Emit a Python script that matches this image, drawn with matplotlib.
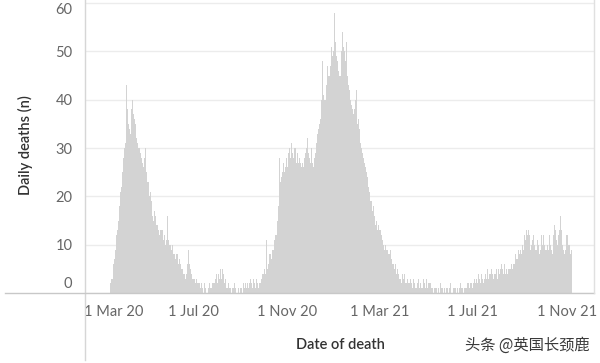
import numpy as np
import pandas as pd
import matplotlib
matplotlib.use("Agg")
import matplotlib.pyplot as plt
import matplotlib.dates as mdates
from matplotlib.transforms import ScaledTranslation
from matplotlib.lines import Line2D

# ---------------- data ----------------
start_date = "2020-03-14"
daily_deaths = [
    2, 2, 3, 3, 5, 6, 7,
    9, 10, 12, 13, 15, 16, 18,
    21, 22, 25, 27, 28, 30, 31,
    33, 43, 38, 35, 36, 34, 33,
    38, 43, 40, 37, 36, 35, 33,
    32, 31, 30, 31, 30, 29, 28,
    29, 27, 26, 28, 30, 24, 25,
    23, 23, 22, 20, 21, 19, 18,
    16, 15, 17, 14, 16, 14, 14,
    13, 14, 12, 13, 13, 12, 13,
    11, 12, 12, 10, 11, 16, 11,
    11, 10, 10, 9, 9, 10, 8,
    8, 9, 7, 8, 8, 7, 6,
    7, 6, 6, 5, 5, 4, 4,
    5, 3, 4, 6, 9, 9, 6,
    5, 4, 4, 3, 3, 2, 3,
    2, 3, 2, 1, 2, 2, 1,
    1, 2, 1, 0, 1, 2, 1,
    0, 1, 0, 1, 2, 1, 0,
    1, 2, 2, 3, 2, 3, 4,
    3, 2, 4, 3, 4, 5, 3,
    5, 4, 3, 2, 3, 1, 2,
    1, 2, 1, 0, 1, 0, 1,
    0, 1, 2, 1, 0, 1, 0,
    1, 0, 2, 1, 1, 0, 1,
    2, 1, 2, 3, 1, 2, 1,
    2, 1, 3, 2, 1, 2, 3,
    2, 1, 2, 3, 2, 1, 2,
    3, 2, 3, 4, 3, 4, 5,
    4, 6, 11, 5, 6, 7, 8,
    8, 7, 9, 10, 9, 11, 12,
    13, 12, 15, 18, 20, 28, 23,
    24, 22, 25, 27, 25, 26, 27,
    28, 26, 29, 27, 30, 28, 31,
    30, 29, 28, 30, 29, 30, 27,
    29, 27, 26, 28, 27, 26, 25,
    27, 26, 28, 27, 29, 30, 32,
    32, 29, 28, 27, 30, 28, 27,
    26, 28, 27, 29, 31, 33, 32,
    34, 35, 36, 38, 40, 48, 41,
    40, 42, 40, 43, 47, 44, 45,
    45, 47, 46, 51, 49, 50, 55,
    58, 52, 49, 48, 47, 46, 45,
    45, 47, 50, 54, 51, 49, 50,
    48, 52, 47, 45, 43, 42, 40,
    41, 39, 38, 37, 36, 38, 40,
    42, 37, 35, 36, 34, 33, 31,
    30, 29, 28, 28, 27, 26, 25,
    25, 24, 22, 21, 20, 19, 19,
    17, 18, 15, 16, 14, 15, 14,
    13, 14, 13, 12, 13, 12, 11,
    11, 10, 9, 10, 9, 8, 9,
    8, 8, 7, 9, 7, 6, 7,
    6, 5, 6, 5, 4, 5, 4,
    3, 4, 3, 2, 4, 5, 3,
    4, 2, 3, 2, 3, 2, 1,
    2, 3, 2, 1, 2, 3, 2,
    1, 2, 1, 2, 3, 2, 1,
    2, 1, 2, 1, 3, 2, 1,
    2, 3, 1, 2, 1, 2, 2,
    1, 2, 1, 0, 1, 2, 1,
    1, 0, 1, 1, 0, 2, 1,
    0, 1, 0, 1, 1, 0, 1,
    1, 0, 0, 1, 2, 0, 1,
    0, 1, 1, 0, 1, 0, 1,
    1, 0, 1, 2, 0, 1, 1,
    0, 1, 2, 1, 1, 2, 1,
    2, 1, 2, 3, 2, 1, 2,
    2, 3, 2, 3, 2, 3, 4,
    3, 2, 3, 4, 3, 2, 4,
    3, 4, 3, 5, 4, 3, 4,
    4, 3, 5, 4, 3, 5, 4,
    4, 5, 4, 3, 5, 4, 5,
    4, 6, 5, 4, 5, 6, 4,
    5, 6, 4, 5, 5, 6, 5,
    6, 5, 6, 7, 6, 8, 7,
    8, 7, 9, 8, 10, 9, 8,
    10, 11, 9, 12, 11, 13, 15,
    12, 13, 12, 10, 9, 10, 11,
    15, 12, 10, 9, 8, 9, 11,
    10, 8, 11, 9, 12, 10, 11,
    12, 10, 9, 8, 9, 10, 9,
    11, 12, 10, 9, 8, 10, 12,
    14, 13, 14, 11, 10, 12, 11,
    13, 16, 13, 11, 10, 9, 8,
    9, 11, 12, 12, 10, 9, 10,
    8, 9,
]
tick_dates = ["2020-03-01", "2020-07-01", "2020-11-01", "2021-03-01", "2021-07-01", "2021-11-01"]
tick_labels = ["1 Mar 20", "1 Jul 20", "1 Nov 20", "1 Mar 21", "1 Jul 21", "1 Nov 21"]
y_ticks = [0, 10, 20, 30, 40, 50, 60]
x_title = "Date of death"
y_title = "Daily deaths (n)"
watermark = "头条 @英国长颈鹿"

# ---------------- plot ----------------
plt.rcParams['font.family'] = ['Lato', 'DejaVu Sans']

W, H = 600, 363
fig = plt.figure(figsize=(W / 100, H / 100), dpi=100)
fig.patch.set_facecolor("white")

ax_left, ax_right, ax_top, ax_base = 85, 595, 0, 293
ax = fig.add_axes([ax_left / W, (H - ax_base) / H, (ax_right - ax_left) / W, (ax_base - ax_top) / H])

dates = pd.date_range(start_date, periods=len(daily_deaths), freq="D")
ax.bar(dates, daily_deaths, width=1.0, color="#d3d3d3", linewidth=0, zorder=2)

ax.set_ylim(0, 60.66)
ax.set_xlim(pd.Timestamp("2020-02-10 10:00"), pd.Timestamp("2021-12-08"))

for s in ax.spines.values():
    s.set_visible(False)

ax.set_yticks(y_ticks)
ax.set_yticklabels([str(v) for v in y_ticks])
ax.yaxis.grid(True, color="#ececec", linewidth=1.0, zorder=0)
ax.tick_params(axis="y", length=0, pad=9, labelsize=10.5, labelcolor="#666666")

ax.set_xticks([pd.Timestamp(d) for d in tick_dates])
ax.set_xticklabels(tick_labels)
ax.tick_params(axis="x", length=0, pad=9, labelsize=10.5, labelcolor="#666666")

# Tableau-like label shifts (keep labels inside the pane)
ylabels = ax.get_yticklabels()
ylabels[0].set_transform(ylabels[0].get_transform() + ScaledTranslation(0, 10 / 100, fig.dpi_scale_trans))
ylabels[-1].set_transform(ylabels[-1].get_transform() + ScaledTranslation(0, -5 / 100, fig.dpi_scale_trans))
xlabels = ax.get_xticklabels()
xlabels[0].set_transform(xlabels[0].get_transform() + ScaledTranslation(14 / 100, 0, fig.dpi_scale_trans))

# frame lines
fig.add_artist(Line2D([ax_left / W, ax_left / W], [3 / H, 1], color="#d6d6d6", linewidth=1.0))
fig.add_artist(Line2D([5 / W, 594 / W], [(H - ax_base) / H] * 2, color="#c8c8c8", linewidth=1.0))
fig.add_artist(Line2D([594 / W, 594 / W], [(H - ax_base) / H, 1], color="#e0e0e0", linewidth=1.0))

fig.text(340 / W, 1 - 345 / H, x_title, ha="center", va="center", fontsize=10.5,
         color="#333333", fontweight="semibold")
fig.text(25 / W, 1 - 145 / H, y_title, ha="center", va="center", rotation=90, fontsize=10.5,
         color="#333333", fontweight="semibold")
fig.text(590 / W, 1 - 345 / H, watermark, ha="right", va="center", fontsize=11,
         color="#3a3a3a", family=["Noto Sans CJK SC", "DejaVu Sans"])

fig.savefig("out.png", dpi=100, facecolor="white")
